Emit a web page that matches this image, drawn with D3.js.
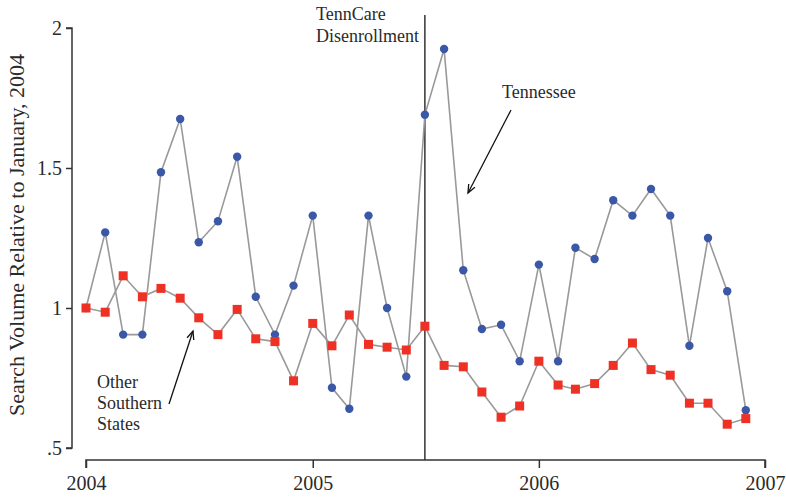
<!DOCTYPE html>
<html>
<head>
<meta charset="utf-8">
<script src="https://cdn.jsdelivr.net/npm/d3@7"></script>
<style>
  body { margin: 0; background: #fff; }
  svg { display: block; }
  text { font-family: 'Liberation Serif', 'DejaVu Serif', serif; }
</style>
</head>
<body>
<div id="chart"></div>
<script>
// Monthly search volume, Jan 2004 - Dec 2006, relative to January 2004
const months = [
  "2004-01","2004-02","2004-03","2004-04","2004-05","2004-06","2004-07","2004-08","2004-09","2004-10","2004-11","2004-12",
  "2005-01","2005-02","2005-03","2005-04","2005-05","2005-06","2005-07","2005-08","2005-09","2005-10","2005-11","2005-12",
  "2006-01","2006-02","2006-03","2006-04","2006-05","2006-06","2006-07","2006-08","2006-09","2006-10","2006-11","2006-12"
];
const tennessee = [
  1.00, 1.27, 0.905, 0.905, 1.485, 1.675, 1.235, 1.31, 1.54, 1.04, 0.905, 1.08,
  1.33, 0.715, 0.64, 1.33, 1.00, 0.755, 1.69, 1.925, 1.135, 0.925, 0.94, 0.81,
  1.155, 0.81, 1.215, 1.175, 1.385, 1.33, 1.425, 1.33, 0.865, 1.25, 1.06, 0.635
];
const otherSouth = [
  1.00, 0.985, 1.115, 1.04, 1.07, 1.035, 0.965, 0.905, 0.995, 0.89, 0.88, 0.74,
  0.945, 0.865, 0.975, 0.87, 0.86, 0.85, 0.935, 0.795, 0.79, 0.70, 0.61, 0.65,
  0.81, 0.725, 0.71, 0.73, 0.795, 0.875, 0.78, 0.76, 0.66, 0.66, 0.585, 0.605
];
const yTicks = [0.5, 1, 1.5, 2];
const yTickLabels = [".5", "1", "1.5", "2"];
const xTicks = ["2004-01", "2005-01", "2006-01", "2007-01"];
const eventMonth = "2005-07";

const width = 786, height = 497;
const parse = d3.timeParse("%Y-%m");
const textColor = "#2a2a2a";

const svg = d3.select("#chart").append("svg")
    .attr("width", width)
    .attr("height", height);

const x = d3.scaleTime()
    .domain([parse("2004-01"), parse("2007-01")])
    .range([86, 765]);

const y = d3.scaleLinear()
    .domain([0.5, 2])
    .range([448, 28]);

// Axes
const yAxis = d3.axisLeft(y)
    .tickValues(yTicks)
    .tickFormat((d, i) => yTickLabels[i])
    .tickSize(6)
    .tickPadding(4);

const yG = svg.append("g")
    .attr("transform", "translate(72,0)")
    .call(yAxis);
yG.select(".domain").attr("d", `M-6,${y(2)}H0V${y(0.5)}H-6`);

const xAxis = d3.axisBottom(x)
    .tickValues(xTicks.map(parse))
    .tickFormat(d3.timeFormat("%Y"))
    .tickSize(8)
    .tickPadding(8);

const xG = svg.append("g")
    .attr("transform", "translate(0,460)")
    .call(xAxis);
xG.select(".domain").attr("d", `M${x.range()[0]},8V0H${x.range()[1]}V8`);

[yG, xG].forEach(g => {
    g.selectAll(".domain, .tick line").attr("stroke", "#333").attr("stroke-width", 1.5);
    g.selectAll("text").attr("font-size", 20).attr("fill", textColor);
});

// Y title
svg.append("text")
    .attr("transform", `translate(24,${(y(2) + y(0.5)) / 2 - 3}) rotate(-90)`)
    .attr("text-anchor", "middle")
    .attr("font-size", 22)
    .attr("fill", textColor)
    .text("Search Volume Relative to January, 2004");

// Event line
svg.append("line")
    .attr("x1", x(parse(eventMonth)))
    .attr("x2", x(parse(eventMonth)))
    .attr("y1", 15)
    .attr("y2", 460)
    .attr("stroke", "#333")
    .attr("stroke-width", 1.5);

// Lines
const line = d3.line()
    .x((d, i) => x(parse(months[i])))
    .y(d => y(d));

svg.append("path")
    .datum(otherSouth)
    .attr("fill", "none")
    .attr("stroke", "#999")
    .attr("stroke-width", 1.6)
    .attr("d", line);

svg.append("path")
    .datum(tennessee)
    .attr("fill", "none")
    .attr("stroke", "#999")
    .attr("stroke-width", 1.6)
    .attr("d", line);

// Markers
svg.append("g").selectAll("circle")
    .data(tennessee)
    .join("circle")
    .attr("cx", (d, i) => x(parse(months[i])))
    .attr("cy", d => y(d))
    .attr("r", 4.2)
    .attr("fill", "#3b58a8");

svg.append("g").selectAll("rect")
    .data(otherSouth)
    .join("rect")
    .attr("x", (d, i) => x(parse(months[i])) - 4.5)
    .attr("y", d => y(d) - 4.5)
    .attr("width", 9)
    .attr("height", 9)
    .attr("fill", "#ee3124");

// Annotations
const ann = svg.append("g")
    .attr("font-size", 18)
    .attr("fill", textColor);

ann.append("text").attr("x", 316).attr("y", 20).text("TennCare");
ann.append("text").attr("x", 316).attr("y", 42).text("Disenrollment");
ann.append("text").attr("x", 502).attr("y", 98).text("Tennessee");
ann.append("text").attr("x", 97).attr("y", 388).text("Other");
ann.append("text").attr("x", 97).attr("y", 409).text("Southern");
ann.append("text").attr("x", 97).attr("y", 430).text("States");

function arrow(x1, y1, x2, y2) {
    const a = Math.atan2(y2 - y1, x2 - x1);
    const len = 9, spread = 0.4;
    svg.append("line")
        .attr("x1", x1).attr("y1", y1).attr("x2", x2).attr("y2", y2)
        .attr("stroke", "#111").attr("stroke-width", 1.3);
    svg.append("path")
        .attr("d", `M${x2 - len * Math.cos(a - spread)},${y2 - len * Math.sin(a - spread)}L${x2},${y2}L${x2 - len * Math.cos(a + spread)},${y2 - len * Math.sin(a + spread)}`)
        .attr("fill", "none")
        .attr("stroke", "#111")
        .attr("stroke-width", 1.3);
}
arrow(511, 110, 468, 193);
arrow(169, 404, 193, 331);
</script>
</body>
</html>
